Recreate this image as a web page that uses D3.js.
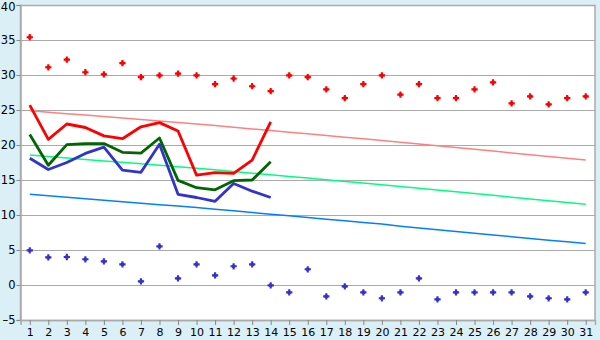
<!DOCTYPE html>
<html>
<head>
<meta charset="utf-8">
<script src="https://cdn.jsdelivr.net/npm/d3@7"></script>
<style>
  html, body { margin: 0; padding: 0; background: #dbf0f6; }
  svg { display: block; font-family: "DejaVu Sans", sans-serif; }
</style>
</head>
<body>
<div id="chart"></div>
<script>
// catégories 1..31
const days = d3.range(1, 32).map(String);
const yTicks = [-5, 0, 5, 10, 15, 20, 25, 30, 35, 40];

// points rouges (haut) et bleus (bas)
const redDots = [35.4, 31.1, 32.2, 30.4, 30.1, 31.7, 29.7, 29.95, 30.2, 29.95,
  28.7, 29.5, 28.4, 27.7, 29.95, 29.7, 27.95, 26.7, 28.7, 29.95,
  27.2, 28.7, 26.7, 26.7, 27.95, 28.95, 25.95, 26.95, 25.8, 26.7, 26.95];
const blueDots = [4.95, 3.95, 4.0, 3.67, 3.38, 2.95, 0.52, 5.52, 0.95, 2.95,
  1.38, 2.67, 2.95, -0.05, -1.05, 2.24, -1.62, -0.19, -1.05, -1.9,
  -1.05, 0.95, -2.05, -1.05, -1.05, -1.05, -1.05, -1.62, -1.9, -2.05, -1.05];

// courbes épaisses (jours 1..14)
const redLine   = [25.7, 20.8, 23.0, 22.5, 21.3, 20.9, 22.6, 23.2, 22.0, 15.7, 16.05, 15.95, 17.85, 23.3];
const greenLine = [21.5, 17.1, 20.05, 20.2, 20.2, 18.95, 18.85, 21.0, 14.95, 13.9, 13.6, 14.9, 15.0, 17.6];
const blueLine  = [18.1, 16.5, 17.5, 18.8, 19.7, 16.4, 16.1, 20.1, 12.95, 12.5, 11.95, 14.5, 13.4, 12.5];

// tendances fines (jours 1..31)
const redTrend = [24.90, 24.69, 24.48, 24.27, 24.06, 23.85, 23.64, 23.43, 23.22, 23.00,
  22.77, 22.53, 22.30, 22.06, 21.83, 21.59, 21.35, 21.12, 20.88, 20.64,
  20.40, 20.15, 19.89, 19.64, 19.38, 19.13, 18.87, 18.62, 18.36, 18.11, 17.85];
const greenTrend = [18.57, 18.36, 18.15, 17.94, 17.73, 17.52, 17.31, 17.10, 16.89, 16.68,
  16.45, 16.21, 15.98, 15.74, 15.51, 15.27, 15.03, 14.80, 14.56, 14.32,
  14.08, 13.83, 13.57, 13.32, 13.06, 12.81, 12.55, 12.30, 12.04, 11.79, 11.53];
const blueTrend = [12.95, 12.74, 12.53, 12.32, 12.11, 11.90, 11.69, 11.48, 11.27, 11.06,
  10.83, 10.59, 10.36, 10.12, 9.89, 9.65, 9.41, 9.18, 8.94, 8.70,
  8.40, 8.15, 7.90, 7.65, 7.40, 7.15, 6.90, 6.65, 6.40, 6.17, 5.93];

const W = 600, H = 340;
const margin = { top: 5, right: 5, bottom: 20, left: 20.5 };

const svg = d3.select("#chart").append("svg")
  .attr("width", W).attr("height", H);

const x = d3.scalePoint().domain(days)
  .range([margin.left, W - margin.right]).padding(0.5);
const y = d3.scaleLinear().domain([-5, 40])
  .range([H - margin.bottom, margin.top]);

// zone du tracé
svg.append("rect")
  .attr("x", margin.left).attr("y", margin.top)
  .attr("width", W - margin.right - margin.left)
  .attr("height", H - margin.bottom - margin.top)
  .attr("fill", "#fff");

// grille horizontale
svg.append("g")
  .selectAll("line")
  .data(yTicks)
  .join("line")
    .attr("x1", margin.left).attr("x2", W - margin.right)
    .attr("y1", d => Math.round(y(d)) + 0.5).attr("y2", d => Math.round(y(d)) + 0.5)
    .attr("stroke", "#aaa").attr("stroke-width", 1);

// bordure
svg.append("rect")
  .attr("x", margin.left).attr("y", margin.top + 0.5)
  .attr("width", W - margin.right - margin.left)
  .attr("height", H - margin.bottom - margin.top)
  .attr("fill", "none").attr("stroke", "#aaa").attr("stroke-width", 1.5);

// axes
const yAxis = svg.append("g")
  .attr("transform", `translate(${margin.left},0)`)
  .call(d3.axisLeft(y).tickValues(yTicks).tickSize(4).tickPadding(1).tickFormat(d => d < 0 ? "\u2013" + (-d) : d));
const xAxis = svg.append("g")
  .attr("transform", `translate(0,${H - margin.bottom})`)
  .call(d3.axisBottom(x).tickSize(5).tickPadding(3));

[xAxis, yAxis].forEach(g => {
  g.select(".domain").attr("stroke", "#aaa").attr("stroke-width", 1.5);
  g.selectAll(".tick line").attr("stroke", "#888");
  g.selectAll(".tick text").attr("fill", "#000");
});
yAxis.selectAll(".tick text").attr("font-size", 11.5).attr("font-family", "DejaVu Sans");
// le libellé du haut est légèrement décalé pour rester visible
yAxis.selectAll(".tick text").filter(d => d === 40).attr("y", 2);
xAxis.selectAll(".tick text").attr("font-size", 11).attr("font-family", "DejaVu Sans");

const line = d3.line().x((d, i) => x(days[i])).y(d => y(d));

// tendances
[[redTrend, "#ff8080"], [greenTrend, "#00ff80"], [blueTrend, "#0080ff"]].forEach(([vals, c]) => {
  svg.append("path")
    .attr("d", line(vals))
    .attr("fill", "none").attr("stroke", c).attr("stroke-width", 1.5);
});

// courbes épaisses
[[blueLine, "#3333cc"], [greenLine, "#006600"], [redLine, "#ff0000"]].forEach(([vals, c]) => {
  svg.append("path")
    .attr("d", line(vals))
    .attr("fill", "none").attr("stroke", c).attr("stroke-width", 2.8)
    .attr("stroke-linejoin", "round");
});

// points (croix épaisses)
const sym = d3.symbol().type(d3.symbolCross).size(22);
const sq = d3.symbol().type(d3.symbolSquare).size(10);
[[redDots, "#ff0000"], [blueDots, "#3333cc"]].forEach(([vals, c]) => {
  const g = svg.append("g")
    .selectAll("g")
    .data(vals)
    .join("g")
      .attr("transform", (d, i) => `translate(${x(days[i])},${y(d)})`)
      .attr("fill", c);
  g.append("path").attr("d", sym);
  g.append("path").attr("d", sq);
});
</script>
</body>
</html>
